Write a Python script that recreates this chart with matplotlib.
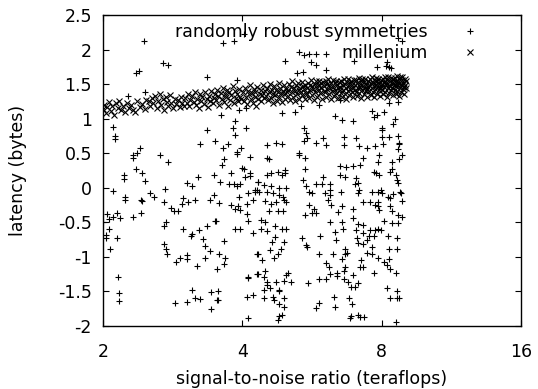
import matplotlib
matplotlib.use("Agg")
import matplotlib.pyplot as plt
from matplotlib.ticker import FixedLocator, FixedFormatter, NullLocator

# ---------------- data ----------------
xtick_vals = [2, 4, 8, 16]
xtick_labels = ["2", "4", "8", "16"]
ytick_vals = [-2, -1.5, -1, -0.5, 0, 0.5, 1, 1.5, 2, 2.5]
ytick_labels = ["-2", "-1.5", "-1", "-0.5", "0", "0.5", "1", "1.5", "2", "2.5"]

series_names = ["randomly robust symmetries", "millenium"]

rrs_x = [
    2.10, 2.22, 2.22, 2.23, 2.23, 2.32, 2.32, 2.37, 2.41, 2.36, 2.43, 2.47, 2.42, 2.43, 2.53, 2.58,
    2.66, 2.76, 2.71, 2.72, 2.73, 2.71, 2.80, 2.85, 2.90, 2.96, 2.98, 3.06, 3.16, 3.04, 3.12, 3.21,
    3.24, 3.50, 3.72, 3.64, 3.89, 3.90, 3.97, 3.66, 3.61, 3.79, 3.48, 3.58, 3.41, 3.48, 3.57, 3.75,
    3.83, 3.90, 3.95, 4.00, 4.04, 4.16, 4.16, 4.16, 4.06, 4.33, 4.11, 4.26, 4.30, 3.93, 4.09, 4.21,
    3.78, 3.86, 3.91, 3.96, 4.10, 4.12, 2.04, 2.06, 2.10, 2.14, 2.18, 2.32, 2.42, 2.06, 2.00, 2.98,
    3.23, 3.35, 3.49, 3.51, 3.86, 3.96, 4.22,
    4.52, 4.73, 4.53, 4.56, 5.29, 5.30, 5.46, 5.44, 5.77, 5.46, 4.52, 4.61, 4.77, 4.87, 4.94, 4.94,
    4.32, 4.26, 4.34, 4.45, 4.61, 4.80, 4.96, 4.52, 4.66, 4.81, 4.89, 4.92, 4.96, 4.48, 4.61, 4.72,
    4.56, 4.78, 4.89, 4.40, 4.48, 4.39, 4.52, 4.70, 4.87, 4.96, 5.42, 5.50, 5.58, 5.66, 5.77, 5.94,
    6.02, 6.18, 5.58, 5.70, 5.66, 5.78, 5.46, 5.98, 6.18, 6.18, 6.14, 6.22, 6.45, 6.57, 6.49, 6.65,
    7.01, 6.53, 6.92, 6.18, 6.57, 6.92, 6.61, 6.33, 7.05, 7.10, 7.15, 7.15, 7.45, 7.75, 8.04, 7.30,
    7.18, 6.92, 6.70, 6.49, 7.87, 7.89, 7.69, 7.79, 7.89, 8.33, 8.41, 8.58, 8.62, 8.67, 8.72, 8.67,
    8.86, 8.74, 8.44, 7.64, 7.85, 7.97, 8.03, 8.27, 8.33, 8.45, 8.77, 8.80, 7.10, 7.30, 7.55, 7.87,
    7.73, 7.87, 7.89, 8.35, 8.41, 8.84, 8.67, 8.84, 8.08, 8.43, 8.67, 7.12, 7.28, 7.55, 7.75, 7.87,
    7.97, 7.05,
    2.03, 2.03, 2.14, 2.07, 2.16, 2.17, 2.17, 2.71, 2.74, 2.75, 2.87, 2.93, 3.03, 3.04, 3.10, 3.12,
    3.29, 3.33, 3.41, 3.33, 3.20, 3.56, 3.67, 3.66, 3.66, 3.52, 4.30, 4.11, 4.11, 4.30, 4.09, 4.21,
    4.11, 2.86, 3.04, 3.16, 3.24, 3.12, 3.43, 3.55, 3.53, 3.55, 3.43,
    4.70, 4.64, 4.60, 4.69, 4.77, 4.85, 4.93, 4.32, 4.41, 4.32, 4.48, 4.46, 4.52, 4.53, 4.45, 4.58,
    4.46, 4.67, 4.69, 4.81, 4.79, 4.72, 4.92, 5.09, 4.97, 5.01, 4.81, 4.91, 4.91, 4.88, 4.79, 4.77,
    5.38, 5.48, 5.51, 5.55, 5.85, 6.07, 5.88, 6.37, 6.27, 6.05, 6.16, 6.18, 6.41, 6.41, 5.86, 6.58,
    6.66, 6.66, 6.72, 6.66, 6.62, 6.62, 6.75, 6.95, 6.87, 7.01, 7.11, 6.31, 6.79, 6.91, 5.78, 5.86,
    6.35, 6.85, 6.87, 7.11, 7.20, 7.31, 7.07, 7.12, 7.28, 7.28, 7.53, 7.45, 7.69, 7.63, 7.45, 7.63,
    7.85, 7.22, 7.20, 7.28, 7.71, 8.09, 8.20, 8.33, 8.29, 8.29, 8.27, 8.64, 8.64, 8.57, 8.20, 8.64,
    8.33, 8.64, 8.70, 8.60,
    2.45, 3.63, 3.83, 4.03, 2.69, 2.77, 2.36, 2.39, 3.36, 3.89, 2.27, 2.46, 4.95, 5.31, 5.44, 5.57,
    5.77, 6.05, 5.62, 5.78, 6.06, 5.24, 5.42, 6.97, 7.81, 8.18, 8.22, 8.30, 8.38, 8.66, 8.84, 6.50,
    8.30, 8.66, 3.94, 4.07, 5.87, 5.36, 3.60, 4.87, 5.20, 6.34, 6.58, 6.94, 7.63, 7.71, 7.80, 8.09,
    8.55, 8.47, 8.00, 8.00, 8.30, 8.00, 8.66, 8.74, 2.10, 2.12, 2.12, 3.35, 3.81, 3.86, 3.86, 4.07,
    4.87, 5.52, 5.97, 6.06, 5.43, 5.50, 6.64, 7.04, 6.64,
]
rrs_y = [
    -0.04, 0.18, 0.12, -0.13, -0.17, 0.47, 0.43, 0.50, 0.57, 0.27, 0.21, 0.10, -0.17, -0.19, -0.08, -0.14,
    0.48, 0.37, -0.21, -0.02, -0.49, -0.56, -0.29, -0.33, -0.34, -0.24, -0.15, -0.20, -0.18, 0.07, 0.03, 0.16,
    0.64, 0.67, 0.64, 0.58, 0.52, 0.49, 0.58, 0.42, 0.33, 0.21, 0.18, 0.08, -0.18, -0.10, -0.22, 0.06,
    0.05, 0.03, 0.05, 0.28, 0.27, 0.21, 0.17, 0.45, 0.15, 0.09, -0.08, -0.06, -0.03, -0.14, -0.23, -0.18,
    -0.25, -0.30, -0.27, -0.32, -0.38, -0.48, -0.38, -0.45, -0.43, -0.36, -0.44, -0.42, -0.36, -0.59, -0.50, -0.59,
    -0.61, -0.55, -0.48, -0.48, -0.60, -0.60, -0.66,
    0.62, 0.65, 0.43, 0.41, 0.51, 0.47, 0.43, 0.67, 0.65, 0.27, 0.18, 0.21, 0.23, 0.18, 0.21, 0.26,
    0.09, -0.03, -0.06, 0.04, 0.02, 0.00, 0.00, -0.06, -0.07, -0.10, -0.14, -0.18, -0.20, -0.19, -0.23, -0.20,
    -0.33, -0.33, -0.33, -0.46, -0.49, -0.60, -0.62, -0.56, -0.59, -0.59, 0.11, 0.02, -0.06, -0.08, 0.06, 0.05,
    -0.08, -0.10, -0.25, -0.30, -0.37, -0.36, -0.39, 0.16, 0.06, -0.03, -0.18, -0.25, -0.35, -0.27, 0.18, 0.15,
    0.06, -0.06, -0.30, -0.49, -0.49, -0.44, -0.59, -0.64, 0.14, 0.07, -0.03, 0.60, 0.58, 0.60, 0.64, 0.43,
    0.33, 0.31, 0.30, 0.31, 0.38, 0.47, 0.23, 0.21, 0.18, 0.23, 0.27, 0.18, 0.11, 0.07, 0.64, 0.56,
    0.48, 0.41, 0.38, -0.06, -0.06, -0.03, -0.08, -0.14, -0.15, -0.09, -0.06, -0.08, -0.08, -0.20, -0.20, -0.20,
    -0.25, -0.27, -0.32, -0.26, -0.33, -0.19, -0.39, -0.43, -0.48, -0.51, -0.51, -0.52, -0.54, -0.61, -0.61, -0.60,
    -0.61, -0.61,
    -0.68, -0.73, -0.72, -0.88, -1.29, -1.52, -1.64, -0.81, -0.88, -0.96, -1.08, -1.02, -0.97, -1.03, -0.70, -0.67,
    -0.74, -0.84, -0.92, -1.01, -1.13, -0.96, -1.01, -0.77, -1.10, -1.18, -0.96, -1.29, -1.31, -1.25, -1.58, -1.55,
    -1.89, -1.66, -1.65, -1.59, -1.61, -1.48, -1.51, -1.50, -1.62, -1.63, -1.76,
    -0.71, -0.79, -0.90, -1.02, -0.96, -0.89, -0.79, -0.96, -1.04, -1.25, -1.21, -1.29, -1.36, -1.41, -1.48, -1.45,
    -1.60, -1.58, -1.63, -1.48, -1.50, -1.37, -1.35, -1.37, -1.26, -1.23, -1.68, -1.73, -1.60, -1.84, -1.85, -1.91,
    -0.72, -0.83, -0.85, -1.38, -1.32, -1.32, -0.70, -0.76, -0.96, -1.09, -1.14, -1.25, -1.23, -1.28, -0.96, -1.03,
    -0.96, -0.88, -0.94, -1.14, -1.21, -1.32, -1.36, -1.26, -1.43, -1.44, -1.38, -1.58, -1.59, -1.68, -1.74, -1.66,
    -1.72, -1.89, -1.85, -1.84, -1.87, -1.87, -0.73, -0.80, -0.81, -0.66, -0.70, -0.75, -0.70, -0.85, -0.94, -0.96,
    -1.01, -1.04, -1.15, -1.15, -1.23, -1.07, -1.12, -1.17, -1.03, -0.89, -0.70, -0.73, -0.88, -1.24, -1.45, -1.49,
    -1.60, -1.60, -1.59, -1.94,
    2.13, 2.10, 2.12, 2.22, 1.81, 1.78, 1.66, 1.69, 1.60, 1.56, 1.33, 1.39, 1.84, 1.97, 1.92, 1.94,
    1.94, 1.94, 1.82, 1.78, 1.71, 1.66, 1.68, 1.83, 1.75, 1.76, 1.82, 1.75, 1.73, 2.16, 2.12, 1.27,
    1.23, 1.24, 1.12, 1.15, 1.20, 1.18, 1.05, 1.08, 1.10, 1.04, 0.98, 0.97, 1.11, 1.02, 1.05, 1.10,
    1.00, 0.93, 0.87, 0.83, 0.74, 0.73, 0.75, 0.65, 0.88, 0.75, 0.70, 0.84, 0.87, 0.96, 0.76, 0.86,
    0.64, 0.72, 0.72, 0.62, 0.86, 0.79, 0.73, 0.72, 0.62,
]

mil_x = [
    2.00, 2.01, 2.03, 2.04, 2.06, 2.08, 2.09, 2.11, 2.13, 2.15, 2.17, 2.19, 2.21, 2.23, 2.25, 2.28, 2.30, 2.32, 2.35, 2.37, 2.40, 2.43, 2.46, 2.48,
    2.51, 2.53, 2.55, 2.57, 2.59, 2.61, 2.63, 2.65, 2.67, 2.69, 2.71, 2.73, 2.75, 2.77, 2.79, 2.81, 2.84, 2.86, 2.88, 2.91, 2.93, 2.95, 2.97, 2.99,
    3.01, 3.03, 3.05, 3.07, 3.09, 3.11, 3.14, 3.16, 3.18, 3.20, 3.22, 3.24, 3.26, 3.28, 3.30, 3.32, 3.35, 3.37, 3.39, 3.41, 3.43, 3.45, 3.47, 3.49,
    3.51, 3.53, 3.55, 3.57, 3.59, 3.61, 3.63, 3.65, 3.67, 3.69, 3.71, 3.73, 3.75, 3.77, 3.79, 3.81, 3.84, 3.86, 3.88, 3.90, 3.92, 3.94, 3.96, 3.98,
    4.01, 4.03, 4.05, 4.07, 4.09, 4.11, 4.13, 4.15, 4.17, 4.19, 4.21, 4.23, 4.25, 4.27, 4.29, 4.31, 4.33, 4.36, 4.38, 4.40, 4.42, 4.44, 4.46, 4.48,
    4.51, 4.53, 4.55, 4.57, 4.59, 4.61, 4.63, 4.65, 4.67, 4.69, 4.71, 4.73, 4.75, 4.77, 4.79, 4.81, 4.83, 4.85, 4.87, 4.89, 4.91, 4.93, 4.95, 4.97, 4.99,
    5.01, 5.03, 5.05, 5.07, 5.09, 5.11, 5.13, 5.15, 5.17, 5.19, 5.21, 5.23, 5.25, 5.27, 5.29, 5.31, 5.33, 5.35, 5.37, 5.39, 5.41, 5.43, 5.45, 5.47, 5.49,
    5.51, 5.53, 5.55, 5.57, 5.59, 5.61, 5.63, 5.65, 5.67, 5.69, 5.71, 5.73, 5.75, 5.77, 5.79, 5.81, 5.83, 5.85, 5.87, 5.89, 5.91, 5.93, 5.95, 5.97, 5.99,
    6.01, 6.03, 6.05, 6.07, 6.09, 6.11, 6.13, 6.15, 6.17, 6.19, 6.21, 6.23, 6.25, 6.27, 6.29, 6.31, 6.33, 6.35, 6.37, 6.39, 6.41, 6.43, 6.45, 6.47, 6.49,
    6.51, 6.53, 6.55, 6.57, 6.59, 6.61, 6.63, 6.65, 6.67, 6.69, 6.71, 6.73, 6.75, 6.77, 6.79, 6.81, 6.83, 6.85, 6.87, 6.89, 6.91, 6.93, 6.95, 6.97, 6.99,
    7.01, 7.03, 7.05, 7.07, 7.09, 7.11, 7.13, 7.15, 7.17, 7.19, 7.21, 7.23, 7.25, 7.27, 7.29, 7.31, 7.33, 7.35, 7.37, 7.39, 7.41, 7.43, 7.45, 7.47, 7.49,
    7.51, 7.53, 7.55, 7.57, 7.59, 7.61, 7.63, 7.65, 7.67, 7.69, 7.71, 7.73, 7.75, 7.77, 7.79, 7.81, 7.83, 7.85, 7.87, 7.89, 7.91, 7.93, 7.95, 7.97, 7.99,
    8.01, 8.03, 8.05, 8.07, 8.09, 8.11, 8.13, 8.15, 8.17, 8.19, 8.21, 8.23, 8.25, 8.27, 8.29, 8.31, 8.33, 8.35, 8.37, 8.39, 8.41, 8.43, 8.45, 8.47, 8.49,
    8.51, 8.53, 8.55, 8.57, 8.59, 8.61, 8.63, 8.65, 8.67, 8.69, 8.71, 8.73, 8.75, 8.77, 8.79, 8.81, 8.83, 8.85, 8.87, 8.89, 8.91, 8.93, 8.95, 8.97, 8.99, 9.01, 9.03,
]
mil_y = [
    1.14, 1.20, 1.08, 1.17, 1.24, 1.11, 1.19, 1.06, 1.22, 1.15, 1.26, 1.12, 1.18, 1.09, 1.23, 1.16, 1.20, 1.13, 1.10, 1.25, 1.17, 1.21, 1.14, 1.27,
    1.26, 1.19, 1.30, 1.22, 1.33, 1.16, 1.25, 1.35, 1.20, 1.28, 1.13, 1.31, 1.24, 1.18, 1.34, 1.22, 1.15, 1.29, 1.21, 1.27, 1.17, 1.32, 1.23, 1.19,
    1.30, 1.22, 1.36, 1.18, 1.27, 1.33, 1.24, 1.39, 1.20, 1.29, 1.15, 1.35, 1.26, 1.31, 1.21, 1.38, 1.28, 1.17, 1.33, 1.25, 1.40, 1.23, 1.30, 1.36,
    1.27, 1.41, 1.33, 1.20, 1.37, 1.29, 1.45, 1.24, 1.35, 1.31, 1.42, 1.19, 1.38, 1.27, 1.34, 1.47, 1.22, 1.40, 1.30, 1.36, 1.25, 1.43, 1.32, 1.28,
    1.38, 1.26, 1.44, 1.31, 1.21, 1.40, 1.35, 1.48, 1.28, 1.37, 1.23, 1.43, 1.32, 1.39, 1.19, 1.46, 1.29, 1.36, 1.42, 1.25, 1.34, 1.49, 1.30, 1.40,
    1.33, 1.45, 1.27, 1.39, 1.50, 1.30, 1.42, 1.22, 1.36, 1.47, 1.34, 1.41, 1.26, 1.38, 1.51, 1.31, 1.44, 1.37, 1.24, 1.40, 1.48, 1.35, 1.29, 1.43, 1.38,
    1.42, 1.33, 1.50, 1.27, 1.46, 1.38, 1.54, 1.31, 1.44, 1.40, 1.25, 1.48, 1.36, 1.52, 1.41, 1.29, 1.45, 1.39, 1.53, 1.34, 1.47, 1.43, 1.28, 1.49, 1.37,
    1.45, 1.36, 1.52, 1.30, 1.48, 1.41, 1.56, 1.34, 1.47, 1.43, 1.27, 1.50, 1.39, 1.54, 1.44, 1.32, 1.49, 1.42, 1.55, 1.37, 1.51, 1.46, 1.29, 1.53, 1.40,
    1.47, 1.38, 1.55, 1.31, 1.50, 1.43, 1.57, 1.35, 1.48, 1.44, 1.28, 1.52, 1.40, 1.56, 1.46, 1.33, 1.51, 1.42, 1.54, 1.37, 1.49, 1.45, 1.30, 1.53, 1.41,
    1.46, 1.37, 1.54, 1.32, 1.49, 1.42, 1.58, 1.36, 1.50, 1.45, 1.29, 1.53, 1.40, 1.57, 1.47, 1.34, 1.52, 1.43, 1.55, 1.39, 1.48, 1.44, 1.31, 1.56, 1.41,
    1.48, 1.39, 1.56, 1.33, 1.51, 1.44, 1.59, 1.37, 1.50, 1.46, 1.30, 1.54, 1.42, 1.58, 1.47, 1.35, 1.53, 1.45, 1.57, 1.40, 1.49, 1.43, 1.32, 1.55, 1.46,
    1.49, 1.40, 1.57, 1.34, 1.52, 1.45, 1.60, 1.38, 1.51, 1.47, 1.31, 1.55, 1.43, 1.59, 1.48, 1.36, 1.54, 1.46, 1.58, 1.41, 1.50, 1.44, 1.33, 1.56, 1.47,
    1.50, 1.41, 1.58, 1.35, 1.53, 1.46, 1.61, 1.39, 1.52, 1.48, 1.32, 1.56, 1.44, 1.60, 1.49, 1.37, 1.55, 1.47, 1.59, 1.42, 1.51, 1.45, 1.34, 1.57, 1.48,
    1.51, 1.42, 1.59, 1.36, 1.54, 1.47, 1.62, 1.40, 1.53, 1.49, 1.33, 1.57, 1.45, 1.61, 1.50, 1.38, 1.56, 1.48, 1.60, 1.43, 1.52, 1.46, 1.35, 1.58, 1.49, 1.44, 1.55,
]

# ---------------- figure ----------------
plt.rcParams["font.family"] = ["DejaVu Sans"]
plt.rcParams["axes.unicode_minus"] = False
FS = 12.5

W, H = 538, 389
fig = plt.figure(figsize=(W / 100, H / 100), dpi=100)
ax = fig.add_axes([103 / W, 63 / H, 418 / W, 311 / H])
ax.set_xscale("log", base=2)

h1, = ax.plot(rrs_x, rrs_y, ls="none", marker="+", ms=5, mew=0.8, color="black",
              label=series_names[0])
h2, = ax.plot(mil_x, mil_y, ls="none", marker="x", ms=4.3, mew=0.8, color="black",
              label=series_names[1])

ax.set_xlim(2, 16)
ax.set_ylim(-2, 2.5)
ax.xaxis.set_major_locator(FixedLocator(xtick_vals))
ax.xaxis.set_major_formatter(FixedFormatter(xtick_labels))
ax.xaxis.set_minor_locator(NullLocator())
ax.yaxis.set_major_locator(FixedLocator(ytick_vals))
ax.yaxis.set_major_formatter(FixedFormatter(ytick_labels))
ax.yaxis.set_minor_locator(NullLocator())
ax.tick_params(which="major", direction="in", top=True, right=True, length=4.5,
               width=0.8, labelsize=FS, colors="black")
ax.tick_params(axis="y", pad=8)
ax.tick_params(axis="x", pad=12)
for s in ax.spines.values():
    s.set_linewidth(1.0)

ax.set_xlabel("signal-to-noise ratio (teraflops)", fontsize=FS, labelpad=7)
ax.set_ylabel("latency (bytes)", fontsize=FS, labelpad=22)

# gnuplot-style key: each label right-aligned next to its sample
common = dict(loc="upper right", frameon=False, markerfirst=False, fontsize=FS,
              borderpad=0, borderaxespad=0, handlelength=2.0, handletextpad=1.4)
leg1 = ax.legend(handles=[h1], bbox_to_anchor=(0.919, 0.975), **common)
ax.add_artist(leg1)
leg2 = ax.legend(handles=[h2], bbox_to_anchor=(0.919, 0.907), **common)

fig.savefig("out.png", dpi=100)
